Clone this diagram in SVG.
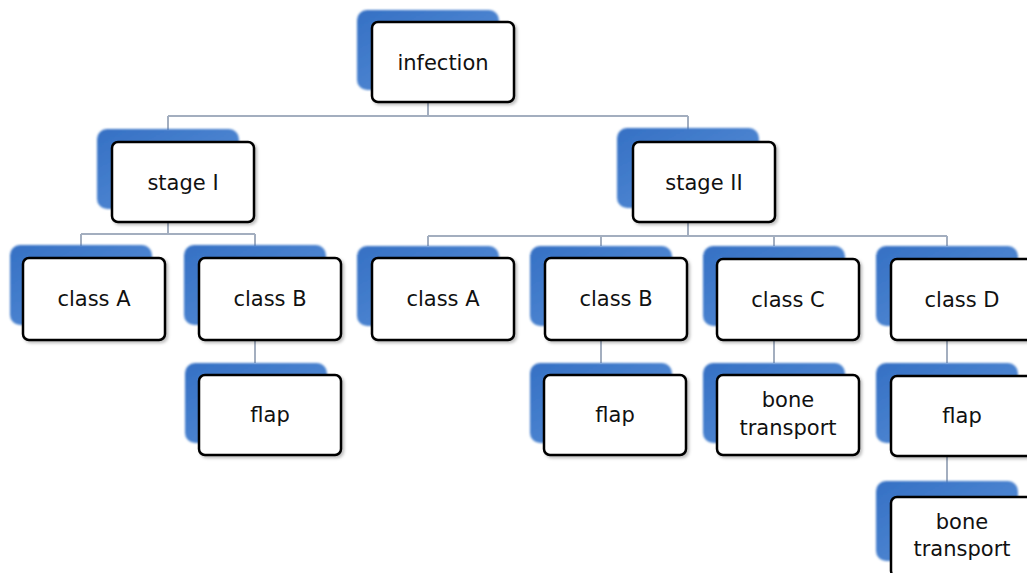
<svg xmlns="http://www.w3.org/2000/svg" width="1027" height="573" viewBox="0 0 1027 573">
  <defs>
    <linearGradient id="blueGrad" x1="0" y1="0" x2="1" y2="1">
      <stop offset="0" stop-color="#3570c4"/>
      <stop offset="1" stop-color="#5b92d9"/>
    </linearGradient>
    <filter id="soft" x="-10%" y="-10%" width="120%" height="125%">
      <feGaussianBlur stdDeviation="1.2"/>
    </filter>
    <filter id="shadow" x="-10%" y="-10%" width="125%" height="130%">
      <feDropShadow dx="2" dy="2" stdDeviation="1.5" flood-color="#000" flood-opacity="0.25"/>
    </filter>
  </defs>
  <style>
    .back { fill: url(#blueGrad); filter: url(#soft); }
    .front { fill: #ffffff; stroke: #000000; stroke-width: 2.5; }
    .lbl { font-family: "DejaVu Sans", sans-serif; font-size: 21px; fill: #111111; text-anchor: middle; }
    .conn { stroke: #a3aebf; stroke-width: 2; fill: none; }
  </style>
  <rect width="1027" height="573" fill="#ffffff"/>

  <g id="connectors" class="conn">
    <path d="M428 102 V116 M168 116 H688 M168 116 V130 M688 116 V130"/>
    <path d="M168 221 V234 M81 234 H255 M81 234 V246 M255 234 V246"/>
    <path d="M688 222 V236 M428 236 H947 M428 236 V246 M601 236 V246 M774 236 V246 M947 236 V246"/>
    <path d="M255 340 V363"/>
    <path d="M601 340 V363"/>
    <path d="M774 340 V363"/>
    <path d="M947 340 V363"/>
    <path d="M947 456 V483"/>
  </g>

  <g id="node-infection">
    <rect class="back" x="357" y="10" width="142" height="80" rx="10"/>
    <rect class="front" x="372" y="22" width="142" height="80" rx="6" filter="url(#shadow)"/>
    <text class="lbl" x="443" y="70">infection</text>
  </g>

  <g id="node-stage1">
    <rect class="back" x="97" y="129" width="142" height="80" rx="10"/>
    <rect class="front" x="112" y="142" width="142" height="80" rx="6" filter="url(#shadow)"/>
    <text class="lbl" x="183" y="190">stage I</text>
  </g>

  <g id="node-stage2">
    <rect class="back" x="617" y="128" width="142" height="80" rx="10"/>
    <rect class="front" x="633" y="142" width="142" height="80" rx="6" filter="url(#shadow)"/>
    <text class="lbl" x="704" y="190">stage II</text>
  </g>

  <g id="node-s1-classA">
    <rect class="back" x="10" y="245" width="142" height="80" rx="10"/>
    <rect class="front" x="23" y="258" width="142" height="82" rx="6" filter="url(#shadow)"/>
    <text class="lbl" x="94" y="306">class A</text>
  </g>

  <g id="node-s1-classB">
    <rect class="back" x="184" y="245" width="142" height="80" rx="10"/>
    <rect class="front" x="199" y="258" width="142" height="82" rx="6" filter="url(#shadow)"/>
    <text class="lbl" x="270" y="306">class B</text>
  </g>

  <g id="node-s1-flap">
    <rect class="back" x="185" y="363" width="142" height="80" rx="10"/>
    <rect class="front" x="199" y="375" width="142" height="80" rx="6" filter="url(#shadow)"/>
    <text class="lbl" x="270" y="422">flap</text>
  </g>

  <g id="node-s2-classA">
    <rect class="back" x="357" y="246" width="142" height="80" rx="10"/>
    <rect class="front" x="372" y="258" width="142" height="82" rx="6" filter="url(#shadow)"/>
    <text class="lbl" x="443" y="306">class A</text>
  </g>

  <g id="node-s2-classB">
    <rect class="back" x="530" y="246" width="142" height="80" rx="10"/>
    <rect class="front" x="545" y="258" width="142" height="82" rx="6" filter="url(#shadow)"/>
    <text class="lbl" x="616" y="306">class B</text>
  </g>

  <g id="node-s2-classC">
    <rect class="back" x="703" y="246" width="142" height="80" rx="10"/>
    <rect class="front" x="717" y="259" width="142" height="81" rx="6" filter="url(#shadow)"/>
    <text class="lbl" x="788" y="307">class C</text>
  </g>

  <g id="node-s2-classD">
    <rect class="back" x="876" y="246" width="142" height="80" rx="10"/>
    <rect class="front" x="891" y="259" width="142" height="81" rx="6" filter="url(#shadow)"/>
    <text class="lbl" x="962" y="307">class D</text>
  </g>

  <g id="node-s2-classB-flap">
    <rect class="back" x="530" y="363" width="142" height="80" rx="10"/>
    <rect class="front" x="544" y="375" width="142" height="80" rx="6" filter="url(#shadow)"/>
    <text class="lbl" x="615" y="422">flap</text>
  </g>

  <g id="node-s2-classC-bone">
    <rect class="back" x="703" y="363" width="142" height="80" rx="10"/>
    <rect class="front" x="717" y="375" width="142" height="80" rx="6" filter="url(#shadow)"/>
    <text class="lbl" x="788" y="407">bone</text>
    <text class="lbl" x="788" y="435">transport</text>
  </g>

  <g id="node-s2-classD-flap">
    <rect class="back" x="876" y="363" width="142" height="80" rx="10"/>
    <rect class="front" x="891" y="376" width="142" height="80" rx="6" filter="url(#shadow)"/>
    <text class="lbl" x="962" y="423">flap</text>
  </g>

  <g id="node-s2-classD-bone">
    <rect class="back" x="876" y="481" width="142" height="80" rx="10"/>
    <rect class="front" x="891" y="497" width="142" height="80" rx="6" filter="url(#shadow)"/>
    <text class="lbl" x="962" y="529">bone</text>
    <text class="lbl" x="962" y="556">transport</text>
  </g>
</svg>
